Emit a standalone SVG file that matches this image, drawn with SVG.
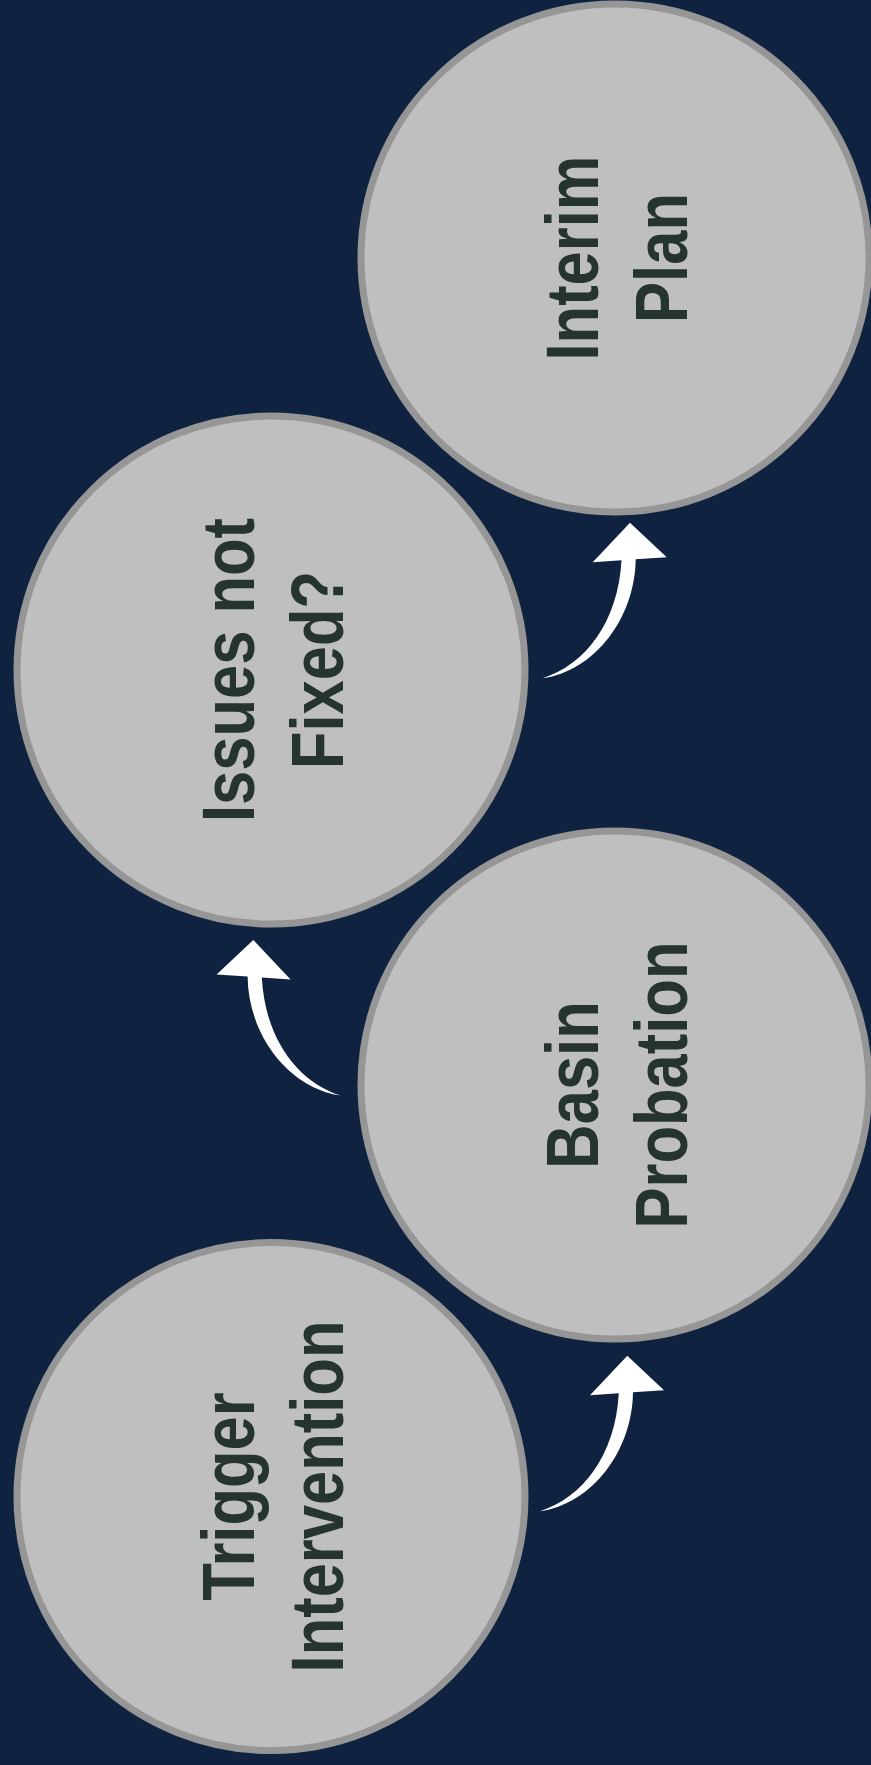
<svg xmlns="http://www.w3.org/2000/svg" xmlns:xlink="http://www.w3.org/1999/xlink" width="871" height="1765" viewBox="0 0 871 1765">
<style>
.node circle{fill:#bfbfbf;stroke:#969696;stroke-width:7}
.node text{font-family:"Liberation Sans",Arial,sans-serif;font-weight:bold;font-size:75px;fill:#26342f;text-anchor:middle}
.arrow{fill:#ffffff}
</style>
<defs>
<path id="arr" d="M0,0 L36.7,34.6 L5.7,36.5 C5,95 -35,148 -87.3,155.6 C-45,142 -12,100 -8.5,37.6 L-37.3,39.6 Z"/>
</defs>
<rect width="871" height="1765" fill="#0f2340"/>
<g id="interim-plan" class="node">
<circle cx="615" cy="258" r="254"/>
<g transform="translate(615,258) rotate(-90) scale(0.82,1)"><text x="0" y="-17.5">Interim</text><text x="0" y="72">Plan</text></g>
</g>
<g id="issues-not-fixed" class="node">
<circle cx="271" cy="670" r="254"/>
<g transform="translate(271,670) rotate(-90) scale(0.82,1)"><text x="0" y="-17.5">Issues not</text><text x="0" y="72">Fixed?</text></g>
</g>
<g id="basin-probation" class="node">
<circle cx="615" cy="1085" r="254"/>
<g transform="translate(615,1085) rotate(-90) scale(0.82,1)"><text x="0" y="-17.5">Basin</text><text x="0" y="72">Probation</text></g>
</g>
<g id="trigger-intervention" class="node">
<circle cx="271" cy="1496.5" r="254"/>
<g transform="translate(271,1496.5) rotate(-90) scale(0.82,1)"><text x="0" y="-17.5">Trigger</text><text x="0" y="72">Intervention</text></g>
</g>
<g id="connectors" class="arrow">
<use xlink:href="#arr" transform="translate(630,522.7)"/>
<use xlink:href="#arr" transform="translate(253.3,940) scale(-1,1)"/>
<use xlink:href="#arr" transform="translate(627.3,1355.7)"/>
</g>
</svg>
